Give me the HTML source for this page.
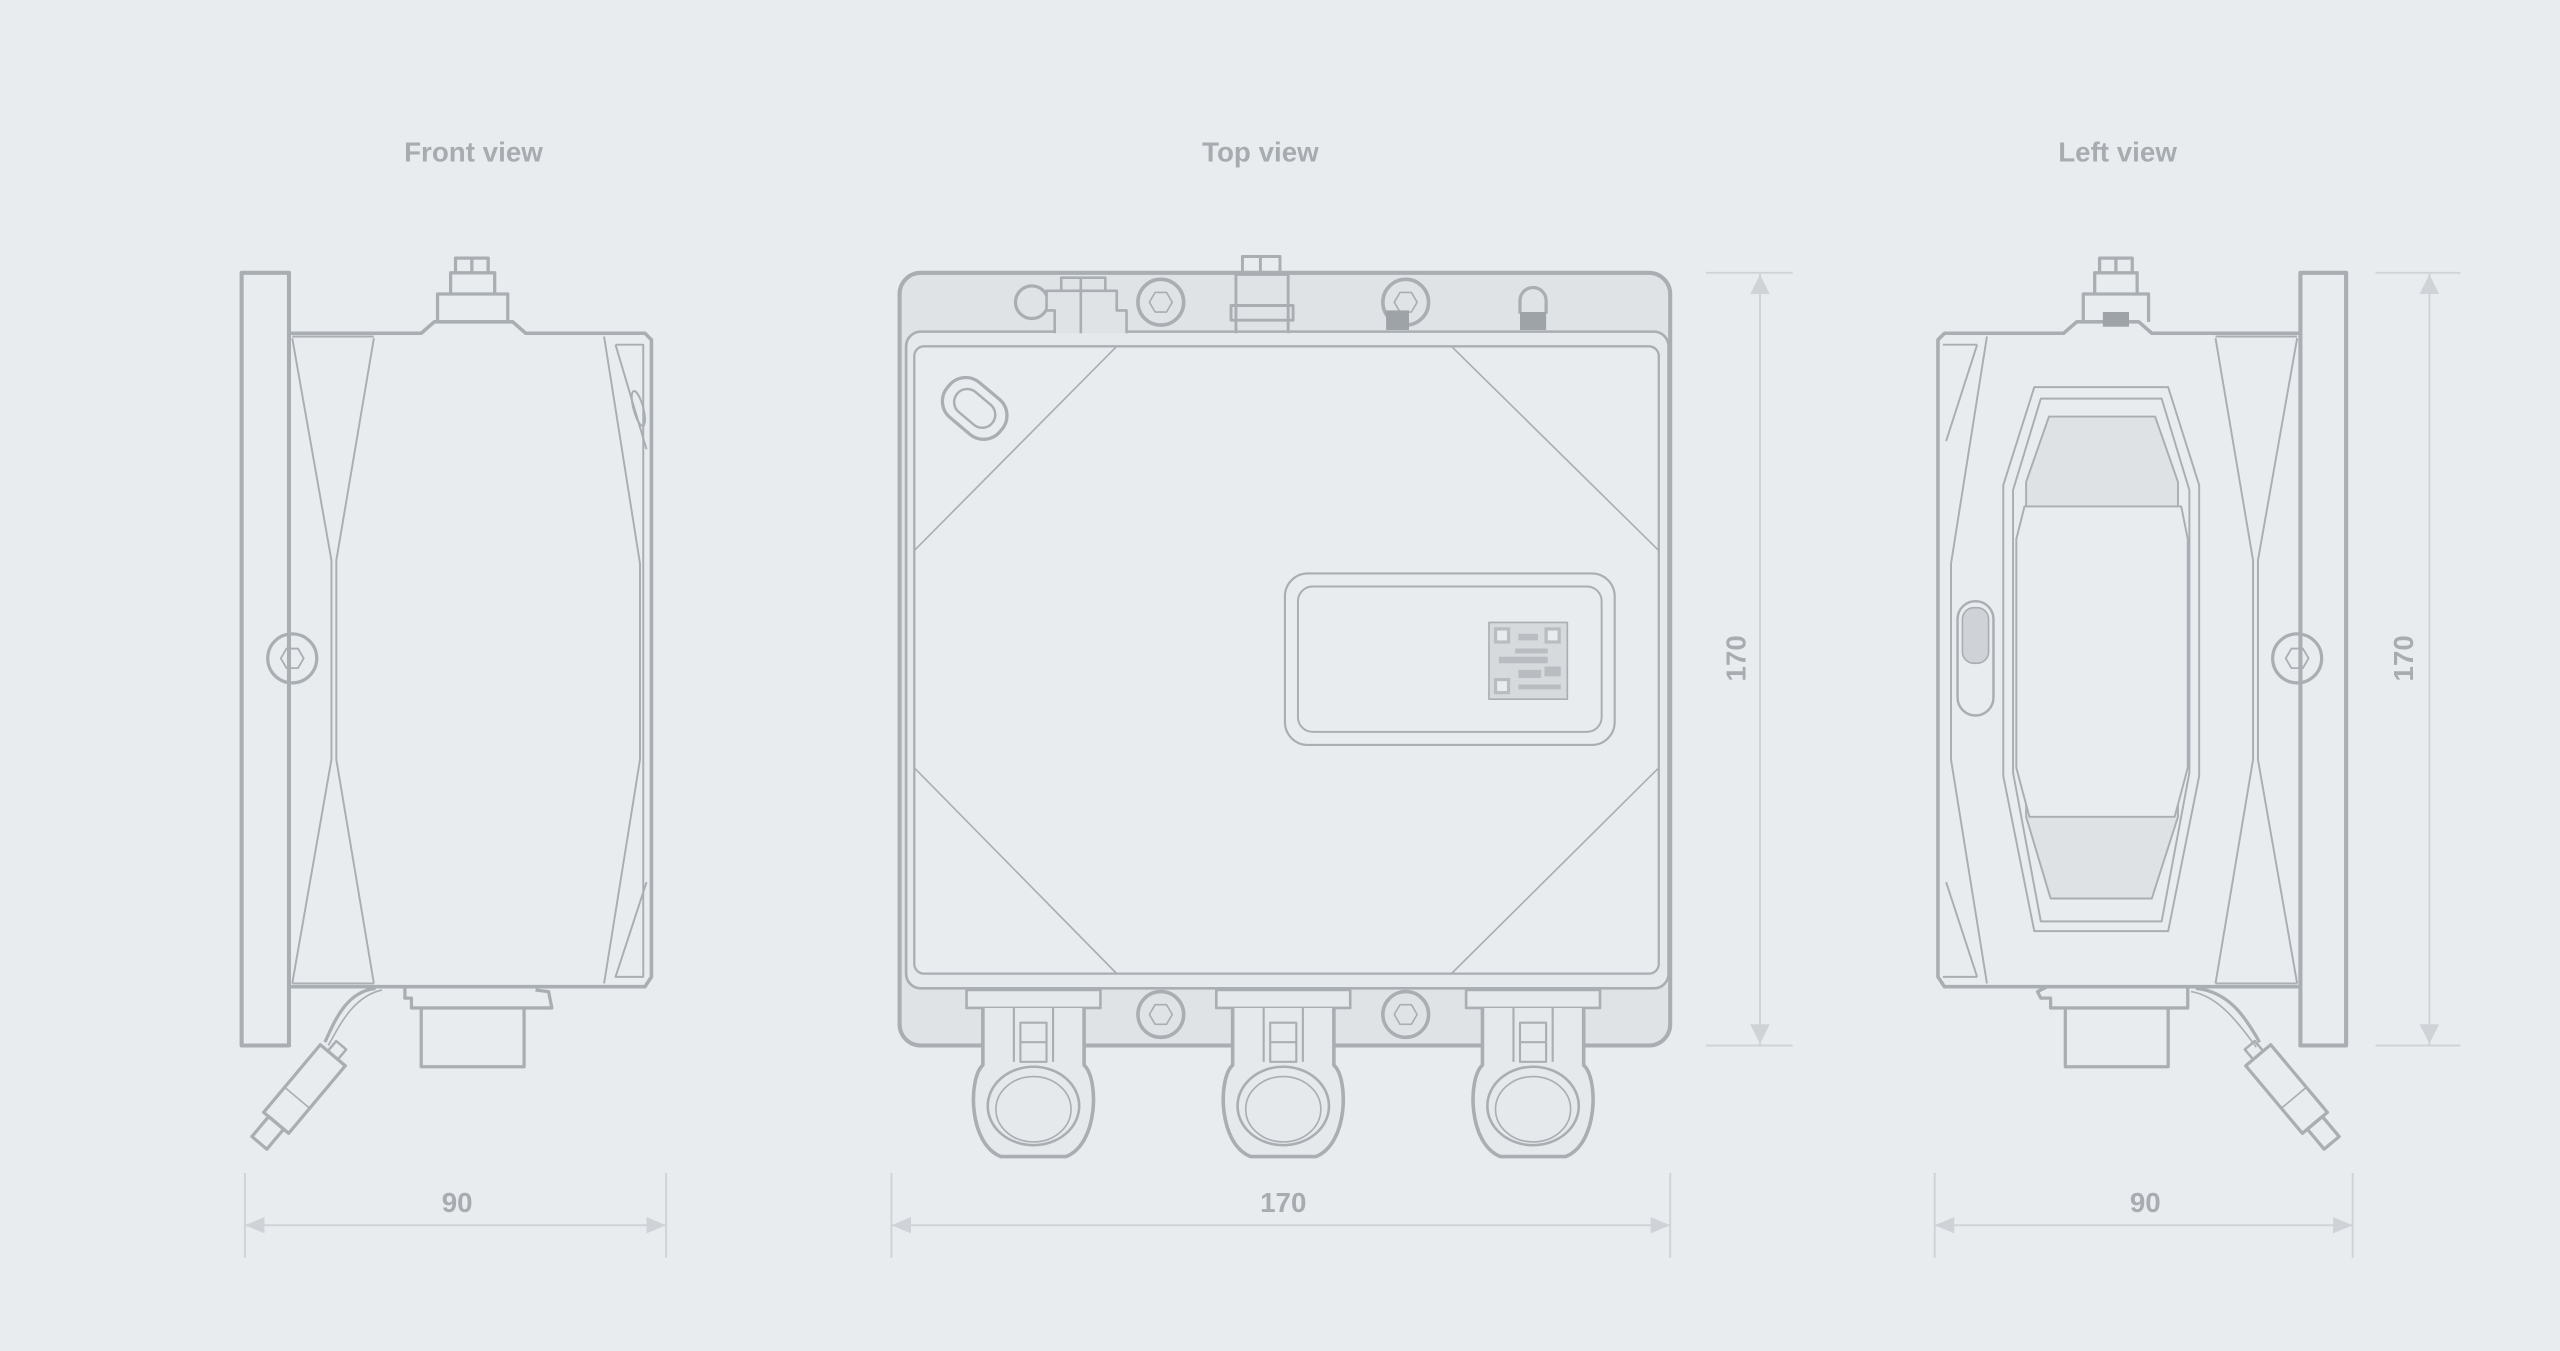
<!DOCTYPE html>
<html><head><meta charset="utf-8"><style>
html,body{margin:0;padding:0;background:#e9ecef;}
svg{display:block}
text{font-family:"Liberation Sans",sans-serif;font-weight:bold;fill:#a7acb1;}
</style></head><body>
<svg width="2560" height="1351" viewBox="0 0 1568 827" preserveAspectRatio="none" xmlns="http://www.w3.org/2000/svg">
<defs>
<g id="gl">
<rect x="-41" y="606" width="82" height="11" stroke-width="1.6" fill="#e6e9ec"/>
<path d="M-31,617 V652 C-40,660 -40,700 -20,708 H20 C40,700 40,660 31,652 V617" stroke-width="2.2" fill="#e6e9ec"/>
<path d="M-12,617 V650 M12,617 V650 M-8,626 H8 V650 H-8 Z M-8,638 H8" stroke-width="1.3"/>
<ellipse cx="0" cy="677" rx="28" ry="24" stroke-width="1.6"/>
<ellipse cx="0" cy="679" rx="23" ry="20" stroke-width="1"/>
</g>
</defs>
<rect width="1568" height="827" fill="#e9ecef"/>
<g font-size="17" text-anchor="middle">
<text x="290" y="99">Front view</text>
<text x="772" y="99">Top view</text>
<text x="1297" y="99">Left view</text>
</g>

<g stroke="#cfd3d7" stroke-width="1.2" fill="none">
<line x1="150" y1="718" x2="150" y2="770"/><line x1="408" y1="718" x2="408" y2="770"/><line x1="150" y1="750" x2="408" y2="750"/>
<line x1="546" y1="718" x2="546" y2="770"/><line x1="1023" y1="718" x2="1023" y2="770"/><line x1="546" y1="750" x2="1023" y2="750"/>
<line x1="1185" y1="718" x2="1185" y2="770"/><line x1="1441" y1="718" x2="1441" y2="770"/><line x1="1185" y1="750" x2="1441" y2="750"/>
<line x1="1045" y1="167" x2="1098" y2="167"/><line x1="1045" y1="640" x2="1098" y2="640"/><line x1="1078" y1="167" x2="1078" y2="640"/>
<line x1="1455" y1="167" x2="1507" y2="167"/><line x1="1455" y1="640" x2="1507" y2="640"/><line x1="1488" y1="167" x2="1488" y2="640"/>
</g>
<g fill="#cfd3d7">
<polygon points="150,750 162,745 162,755"/><polygon points="408,750 396,745 396,755"/>
<polygon points="546,750 558,745 558,755"/><polygon points="1023,750 1011,745 1011,755"/>
<polygon points="1185,750 1197,745 1197,755"/><polygon points="1441,750 1429,745 1429,755"/>
<polygon points="1078,168 1072,180 1084,180"/><polygon points="1078,639 1072,627 1084,627"/>
<polygon points="1488,168 1482,180 1494,180"/><polygon points="1488,639 1482,627 1494,627"/>
</g>
<g font-size="17" text-anchor="middle">
<text x="280" y="742">90</text><text x="786" y="742">170</text><text x="1314" y="742">90</text>
<text transform="translate(1069,403) rotate(-90)">170</text>
<text transform="translate(1478,403) rotate(-90)">170</text>
</g>

<!-- FRONT VIEW -->
<g stroke="#a9aeb3" fill="none" stroke-linejoin="round">
<rect x="148" y="167" width="29" height="473" stroke-width="2.5"/>
<path d="M177,204 H258 L266,197 H314 L322,204 H395 L399,208 V598 L395,604 H177" stroke-width="2.2"/>
<path d="M268,197 V180 H311 V197 M276,180 V167 H303 V180 M279,167 V158 H299 V167 M289,158 V167" stroke-width="2"/>
<g stroke-width="1.2">
<path d="M179,207 L203,343 V465 L179,602 M229,207 L206,343 V465 L229,602"/>
<path d="M179,206 H229 M179,602 H229"/>
<path d="M370,206 L392,345 V465 L370,602 M377,211 H394 V598 H377 L396,540"/>
<path d="M377,211 L396,275"/>
<ellipse cx="391" cy="250" rx="3" ry="11" transform="rotate(-15 391 250)"/>
</g>
<circle cx="179" cy="403" r="15" stroke-width="2"/>
<polygon points="172,403 175.5,397 182.5,397 186,403 182.5,409 175.5,409" stroke-width="1.1"/>
<path d="M248,604 V611 H252 V617 H338 L336,607 L328,606 M258,617 V653 H321 V617" stroke-width="2"/>
<path d="M230,605 C212,607 205,625 199,638" stroke-width="2"/>
<path d="M234,606 C216,610 208,628 201,640" stroke-width="1"/>
<g transform="translate(182,672) rotate(40)">
<rect x="-10" y="-34" width="20" height="54" stroke-width="2"/>
<rect x="-6" y="20" width="12" height="16" stroke-width="2"/>
<path d="M-4,-34 V-42 H4 V-34" stroke-width="1.5"/>
<line x1="-10" y1="0" x2="10" y2="0" stroke-width="1"/>
</g>
</g>

<!-- TOP VIEW -->
<g stroke="#a9aeb3" fill="none" stroke-linejoin="round">
<rect x="551" y="167" width="472" height="473" rx="13" fill="#e0e3e6" stroke-width="2.5"/>
<rect x="555" y="203" width="467" height="402" rx="9" fill="#e6e9ec" stroke-width="1.6"/>
<rect x="560" y="212" width="456" height="384" rx="6" fill="#e9ecef" stroke-width="1.4"/>
<g stroke-width="1">
<path d="M684,212 L560,337 M889,212 L1016,337 M560,470 L684,596 M1016,470 L889,596"/>
</g>
<rect x="787" y="351" width="202" height="105" rx="14" stroke-width="1.3"/>
<rect x="795" y="359" width="186" height="89" rx="9" stroke-width="1.2"/>
<rect x="912" y="381" width="48" height="47" fill="#d7dadd" stroke-width="1"/>
<g fill="#b9bdc1" stroke="none">
<rect x="915" y="384" width="10" height="10"/><rect x="946" y="384" width="10" height="10"/><rect x="915" y="415" width="10" height="10"/>
<rect x="930" y="388" width="12" height="4"/><rect x="928" y="397" width="20" height="3"/><rect x="918" y="402" width="30" height="4"/>
<rect x="930" y="410" width="14" height="5"/><rect x="946" y="408" width="10" height="6"/><rect x="930" y="419" width="26" height="3"/>
</g>
<g fill="#e9ecef" stroke="none">
<rect x="917" y="386" width="6" height="6"/><rect x="948" y="386" width="6" height="6"/><rect x="917" y="417" width="6" height="6"/>
</g>
<g transform="translate(597,250) rotate(40)">
<rect x="-21" y="-14" width="42" height="28" rx="13" stroke-width="2"/>
<rect x="-14" y="-8" width="28" height="16" rx="8" stroke-width="1.5"/>
</g>
<line x1="1023" y1="340" x2="1023" y2="465" stroke-width="1.5"/>
<circle cx="632" cy="185" r="10" stroke-width="2"/>
<path d="M646,204 V190 H641 V178 H684 V190 H690 V204 M662,170 V204 M650,178 V170 H677 V178" stroke-width="1.6" fill="#e0e3e6"/>
<circle cx="711" cy="185" r="14" stroke-width="2.2"/>
<polygon points="704,185 707.5,179 714.5,179 718,185 714.5,191 707.5,191" stroke-width="1"/>
<path d="M761,168 V157 H784 V168 M772,157 V168 M757,204 V168 H789 V204 M754,187 H792 V196 H754 Z" stroke-width="1.8"/>
<circle cx="861" cy="185" r="14" stroke-width="2.2"/>
<polygon points="854,185 857.5,179 864.5,179 868,185 864.5,191 857.5,191" stroke-width="1"/>
<rect x="849" y="190" width="14" height="12" fill="#9ea3a8" stroke="none"/>
<path d="M931,192 V184 A8,8 0 0 1 947,184 V192" stroke-width="2"/>
<rect x="931" y="191" width="16" height="11" fill="#9ea3a8" stroke="none"/>
<circle cx="711" cy="621" r="14" stroke-width="2.2"/>
<polygon points="704,621 707.5,615 714.5,615 718,621 714.5,627 707.5,627" stroke-width="1"/>
<circle cx="861" cy="621" r="14" stroke-width="2.2"/>
<polygon points="854,621 857.5,615 864.5,615 868,621 864.5,627 857.5,627" stroke-width="1"/>
<use href="#gl" transform="translate(633,0)"/>
<use href="#gl" transform="translate(786,0)"/>
<use href="#gl" transform="translate(939,0)"/>
</g>

<!-- LEFT VIEW -->
<g stroke="#a9aeb3" fill="none" stroke-linejoin="round">
<rect x="1409" y="167" width="28" height="473" stroke-width="2.5"/>
<path d="M1409,204 H1318 L1310,197 H1272 L1264,204 H1191 L1187,208 V598 L1191,604 H1409" stroke-width="2.2"/>
<path d="M1276,197 V180 H1316 V197 M1283,180 V167 H1309 V180 M1286,167 V158 H1306 V167 M1296,158 V167" stroke-width="2"/>
<rect x="1288" y="191" width="16" height="9" fill="#9ea3a8" stroke="none"/>
<g stroke-width="1.2">
<path d="M1217,206 L1195,345 V465 L1217,602 M1211,211 H1190 M1211,211 L1192,270 M1211,598 H1190 M1211,598 L1192,540"/>
<path d="M1357,207 L1380,343 V465 L1357,602 M1407,207 L1383,343 V465 L1407,602"/>
<path d="M1357,206 H1407 M1357,602 H1407"/>
<path d="M1246,237 H1328 L1347,297 V475 L1328,570 H1246 L1227,475 V297 Z" stroke-width="1.2"/>
<path d="M1250,244 H1324 L1341,300 V473 L1324,564 H1250 L1233,473 V300 Z"/>
<path d="M1255,255 H1320 L1334,295 V500 L1318,550 H1256 L1241,500 V295 Z" fill="#dfe2e5"/>
<path d="M1240,310 L1235,330 V470 L1243,500 H1332 L1340,470 V330 L1336,310 Z" fill="#e9ecef"/>
</g>
<rect x="1199" y="368" width="22" height="70" rx="11" stroke-width="1.5"/>
<rect x="1202" y="372" width="16" height="34" rx="7" fill="#cfd3d7" stroke-width="1"/>
<circle cx="1407" cy="403" r="15" stroke-width="2"/>
<polygon points="1400,403 1403.5,397 1410.5,397 1414,403 1410.5,409 1403.5,409" stroke-width="1.1"/>
<path d="M1254,604 L1248,607 L1250,611 H1256 V617 H1340 V604 M1265,617 V653 H1328 V617" stroke-width="2"/>
<path d="M1345,605 C1365,607 1375,622 1384,638" stroke-width="2"/>
<path d="M1342,607 C1360,610 1372,628 1382,641"/>
<g transform="translate(1405,672) rotate(-40)">
<rect x="-10" y="-34" width="20" height="54" stroke-width="2"/>
<rect x="-6" y="20" width="12" height="16" stroke-width="2"/>
<path d="M-4,-34 V-42 H4 V-34" stroke-width="1.5"/>
<line x1="-10" y1="0" x2="10" y2="0" stroke-width="1"/>
</g>
</g>
</svg>
</body></html>
